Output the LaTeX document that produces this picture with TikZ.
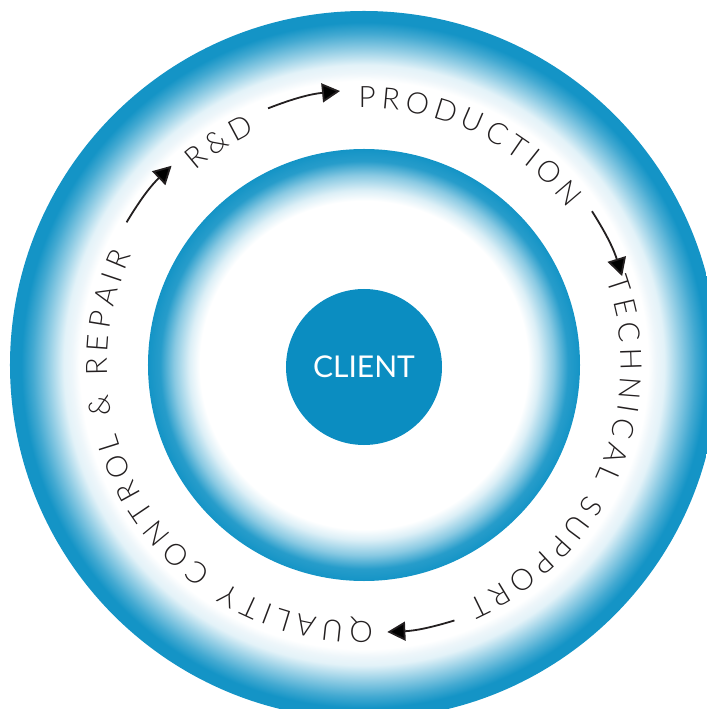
\documentclass[tikz,border=0pt]{standalone}
\usepackage{fontspec}
\usepackage{xcolor}
\newfontfamily\ringfont{Lato Light}
\newfontfamily\clientfont{Lato}
\newcommand\ringtext{\ringfont\fontsize{29.5bp}{31bp}\selectfont\kern5.4bp}
\definecolor{ringblue}{HTML}{1494C6}
\definecolor{clientblue}{HTML}{0B8DC1}
\definecolor{inkgray}{HTML}{231F20}
\definecolor{paleblue}{HTML}{EEF6FA}
\usetikzlibrary{decorations.text, arrows.meta}
\pgfdeclareradialshading{outerring}{\pgfpointorigin}{color(0bp)=(white); color(20.06bp)=(white); color(20.62bp)=(paleblue); color(21.2bp)=(ringblue!12); color(22.25bp)=(ringblue!45); color(23.4bp)=(ringblue!80); color(24.2bp)=(ringblue); color(50bp)=(ringblue)}
\pgfdeclareradialshading{innerring}{\pgfpointorigin}{color(0bp)=(white); color(19bp)=(white); color(20.25bp)=(ringblue!15); color(22bp)=(ringblue!50); color(23.6bp)=(ringblue!92); color(25bp)=(ringblue); color(50bp)=(ringblue)}
\tikzset{
  ringlabel/.style={decorate, decoration={text along path, text align=left, text color=inkgray, text={|\ringtext|#1}}},
  stagearrow/.style={-{Triangle[length=18bp, width=19bp]}, line width=1.8bp, draw=inkgray, fill=none},
}
\begin{document}
\begin{tikzpicture}[x=1bp, y=1bp]
  \useasboundingbox (-364,-344) rectangle (343,365);
  \clip (-364,-344) rectangle (343,365);

  \node (outer) at (0, 0) [circle, inner sep=0pt, minimum size=708bp, shade, shading=outerring] {};
  \node (middle) at (0, 0) [circle, inner sep=0pt, minimum size=432bp, shade, shading=innerring] {};
  \node (client) at (0, -2) [circle, inner sep=0pt, minimum size=156bp, fill=clientblue, text=white, font=\clientfont\fontsize{30bp}{32bp}\selectfont] {CLIENT};

  % stage names round the ring, clockwise
  \path[ringlabel={R{\&}D}] (132.2:257) arc[start angle=132.2, end angle=100, radius=257];
  \path[ringlabel={PRODUCTION}] (92.4:257) arc[start angle=92.4, end angle=20, radius=257];
  \path[ringlabel={TECHNICAL SUPPORT}] (20.6:257) arc[start angle=20.6, end angle=-82, radius=257];
  \path[ringlabel={QUALITY CONTROL {\&} REPAIR}] (-86.8:257) arc[start angle=-86.8, end angle=-250, radius=257];

  \coordinate (rd out) at (110.5:274);
  \coordinate (production in) at (95:275);
  \coordinate (production out) at (34:275);
  \coordinate (support in) at (19:273);
  \coordinate (support out) at (-70.5:271);
  \coordinate (quality in) at (-85:268);
  \coordinate (repair out) at (149:277);
  \coordinate (rd in) at (134:277);

  \draw[stagearrow] (rd out) to[bend left=7.75] (production in);
  \draw[stagearrow] (production out) to[bend left=7.5] (support in);
  \draw[stagearrow] (support out) to[bend left=7.25] (quality in);
  \draw[stagearrow] (repair out) to[bend left=7.5] (rd in);
\end{tikzpicture}
\end{document}
